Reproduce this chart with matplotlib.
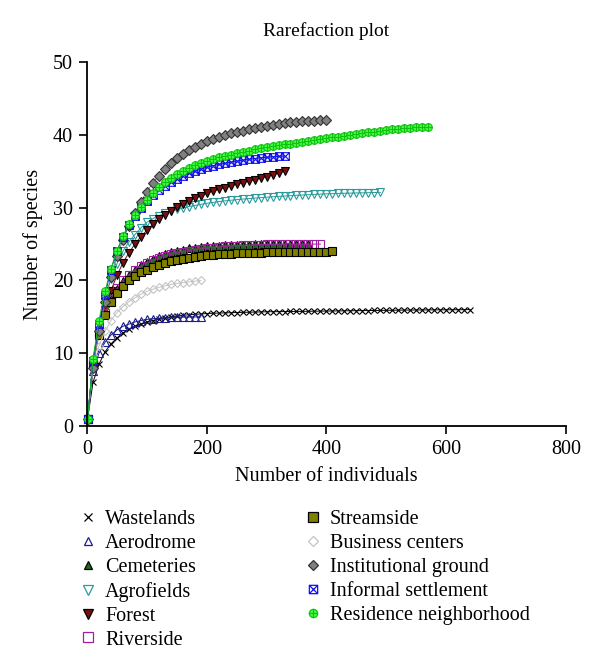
import matplotlib
matplotlib.use("Agg")
import matplotlib.pyplot as plt
from matplotlib.path import Path
from matplotlib.lines import Line2D

plt.rcParams['font.family'] = ['Liberation Serif', 'DejaVu Serif']

# sample sizes (number of individuals) at which the curves were rarefied
sizes = [1, 10, 20, 30, 40, 50, 60, 70, 80, 90,
         100, 110, 120, 130, 140, 150, 160, 170, 180, 190,
         200, 210, 220, 230, 240, 250, 260, 270, 280, 290,
         300, 310, 320, 330, 340, 350, 360, 370, 380, 390,
         400, 410, 420, 430, 440, 450, 460, 470, 480, 490,
         500, 510, 520, 530, 540, 550, 560, 570, 580, 590,
         600, 610, 620, 630, 640]

wastelands = [1, 6, 8.5, 10.2, 11.3, 12.1, 12.8, 13.3, 13.7, 14.0,
              14.3, 14.5, 14.7, 14.85, 15.0, 15.1, 15.2, 15.3, 15.35, 15.4,
              15.45, 15.5, 15.52, 15.55, 15.57, 15.6, 15.62, 15.64, 15.66, 15.68,
              15.7, 15.71, 15.72, 15.73, 15.74, 15.75, 15.76, 15.77, 15.78, 15.79,
              15.8, 15.81, 15.82, 15.83, 15.84, 15.85, 15.86, 15.87, 15.88, 15.89,
              15.9, 15.91, 15.92, 15.93, 15.94, 15.95, 15.95, 15.96, 15.96, 15.97,
              15.97, 15.98, 15.98, 15.99, 16.0]
aerodrome = [1, 7.5, 10, 11.5, 12.5, 13.2, 13.7, 14.0, 14.3, 14.5,
             14.65, 14.75, 14.82, 14.88, 14.92, 14.95, 14.97, 14.98, 14.99, 15.0]
cemeteries = [1, 8.8, 13, 15.6, 17.4, 18.8, 19.9, 20.8, 21.5, 22.1,
              22.6, 23.0, 23.35, 23.65, 23.9, 24.1, 24.25, 24.4, 24.5, 24.6,
              24.68, 24.74, 24.8, 24.84, 24.88, 24.9, 24.92, 24.94, 24.95, 24.96,
              24.97, 24.98, 24.98, 24.99, 24.99, 25.0, 25.0, 25.0]
agrofields = [1, 9, 14, 17.5, 20.2, 22.3, 24, 25.3, 26.3, 27.2,
              28.0, 28.5, 28.9, 29.2, 29.5, 29.75, 29.95, 30.15, 30.3, 30.45,
              30.6, 30.72, 30.83, 30.93, 31.02, 31.1, 31.18, 31.25, 31.32, 31.38,
              31.44, 31.5, 31.55, 31.6, 31.65, 31.7, 31.74, 31.78, 31.82, 31.86,
              31.9, 31.93, 31.96, 31.98, 32.0, 32.02, 32.04, 32.06, 32.08, 32.1]
forest = [1, 8.5, 12.8, 16.0, 18.6, 20.7, 22.4, 23.8, 25.0, 26.0,
          26.9, 27.7, 28.4, 29.05, 29.6, 30.1, 30.55, 30.95, 31.3, 31.65,
          31.95, 32.25, 32.5, 32.75, 33.0, 33.22, 33.44, 33.65, 33.85, 34.05,
          34.25, 34.5, 34.75, 35.0]
riverside = [1, 8.6, 12.8, 15.6, 17.5, 18.9, 20.0, 20.8, 21.5, 22.0,
             22.45, 22.8, 23.1, 23.35, 23.58, 23.78, 23.95, 24.1, 24.22, 24.33,
             24.43, 24.52, 24.6, 24.67, 24.73, 24.78, 24.82, 24.86, 24.9, 24.93,
             24.95, 24.97, 24.98, 24.99, 25.0, 25.0, 25.0, 25.0, 25.0, 25.0]
streamside = [1, 8.5, 12.5, 15.2, 17.0, 18.3, 19.3, 20.0, 20.6, 21.1,
              21.5, 21.85, 22.15, 22.4, 22.62, 22.8, 22.97, 23.12, 23.25, 23.35,
              23.45, 23.52, 23.58, 23.63, 23.68, 23.72, 23.75, 23.78, 23.81, 23.84,
              23.86, 23.88, 23.9, 23.91, 23.92, 23.93, 23.94, 23.95, 23.96, 23.97,
              23.98, 24.0]
business = [1, 8, 11, 13, 14.5, 15.6, 16.4, 17.1, 17.6, 18.1,
            18.5, 18.8, 19.05, 19.25, 19.45, 19.6, 19.7, 19.8, 19.9, 20.0]
institutional = [1, 8, 13, 17, 20.5, 23.3, 25.6, 27.5, 29.2, 30.8,
                 32.2, 33.4, 34.4, 35.3, 36.1, 36.8, 37.4, 37.9, 38.35, 38.75,
                 39.1, 39.4, 39.7, 39.95, 40.2, 40.4, 40.6, 40.78, 40.95, 41.1,
                 41.25, 41.38, 41.5, 41.6, 41.7, 41.78, 41.85, 41.9, 41.95, 41.98,
                 42.0]
informal = [1, 9, 14, 18, 21.5, 24.0, 26.0, 27.6, 28.9, 30.0,
            30.9, 31.7, 32.4, 33.0, 33.5, 33.95, 34.35, 34.7, 35.0, 35.3,
            35.55, 35.75, 35.95, 36.1, 36.25, 36.4, 36.52, 36.64, 36.75, 36.85,
            36.93, 37.0, 37.05, 37.1]
residence = [1, 9.2, 14.5, 18.5, 21.6, 24.1, 26.1, 27.7, 29.0, 30.1,
             31.1, 32.0, 32.8, 33.5, 34.1, 34.6, 35.05, 35.45, 35.8, 36.1,
             36.4, 36.65, 36.9, 37.1, 37.3, 37.5, 37.68, 37.85, 38.0, 38.15,
             38.3, 38.43, 38.56, 38.68, 38.8, 38.92, 39.04, 39.16, 39.28, 39.4,
             39.52, 39.64, 39.76, 39.88, 40.0, 40.11, 40.22, 40.33, 40.44, 40.55,
             40.65, 40.75, 40.85, 40.92, 40.98, 41.03, 41.07, 41.1]

names = ["Wastelands", "Aerodrome", "Cemeteries", "Agrofields", "Forest",
         "Riverside", "Streamside", "Business centers", "Institutional ground",
         "Informal settlement", "Residence neighborhood"]
series = [wastelands, aerodrome, cemeteries, agrofields, forest, riverside,
          streamside, business, institutional, informal, residence]

# custom markers: square with an x inside, circle with a cross
box_x = Path([(-1, -1), (1, -1), (1, 1), (-1, 1), (-1, -1),
              (-1, -1), (1, 1), (-1, 1), (1, -1)],
             [Path.MOVETO, Path.LINETO, Path.LINETO, Path.LINETO, Path.CLOSEPOLY,
              Path.MOVETO, Path.LINETO, Path.MOVETO, Path.LINETO])
circ_plus = Path.make_compound_path(
    Path.unit_circle(),
    Path([(-1, 0), (1, 0), (0, -1), (0, 1)],
         [Path.MOVETO, Path.LINETO, Path.MOVETO, Path.LINETO]))

# marker, face, edge, line colour, marker size
styles = [
    ("x", "black", "black", "black", 5),
    ("^", "none", "#1c1c8c", "#1c1c8c", 5.5),
    ("^", "#1d6b1d", "black", "#1d6b1d", 5.5),
    ("v", "none", "#2a9a9a", "#2a9a9a", 6),
    ("v", "#7a1010", "black", "#7a1010", 6),
    ("s", "none", "#a020a0", "#a020a0", 6),
    ("s", "#808000", "black", "#808000", 6),
    ("D", "none", "#c4c4c4", "#c4c4c4", 4.5),
    ("D", "#808080", "#333333", "#808080", 5),
    (box_x, "none", "#1010ee", "#1010ee", 5.5),
    (circ_plus, "#44ff44", "#11c011", "#11c011", 5.5),
]

fig = plt.figure(figsize=(6, 6.71), dpi=100)
ax = fig.add_axes([0.145, 0.365, 0.798, 0.5425])

handles = []
for name, ys, (mk, fc, ec, lc, ms) in zip(names, series, styles):
    ax.plot(sizes[:len(ys)], ys, color=lc, lw=0.7, marker=mk, ms=ms,
            mfc=fc, mec=ec, mew=0.8, clip_on=False)
    handles.append(Line2D([], [], ls="none", marker=mk, ms=ms + 0.5, mfc=fc,
                          mec=ec, mew=0.9, label=name))

ax.set_xlim(0, 800)
ax.set_ylim(0, 50)
ax.set_xticks([0, 200, 400, 600, 800])
ax.set_yticks([0, 10, 20, 30, 40, 50])
for s in ["top", "right"]:
    ax.spines[s].set_visible(False)
for s in ["left", "bottom"]:
    ax.spines[s].set_linewidth(1.3)
ax.tick_params(direction="out", length=6, width=1.2, labelsize=14.5, pad=4)

ax.set_xlabel("Number of individuals", fontsize=14.5)
ax.xaxis.set_label_coords(0.5, -0.112)
ax.set_ylabel("Number of species", fontsize=14.5)
ax.yaxis.set_label_coords(-0.091, 0.5)

fig.text(0.543, 0.954, "Rarefaction plot", ha="center", va="center", fontsize=14)

fig.legend(handles=handles, loc="upper left", bbox_to_anchor=(0.12, 0.252),
           ncol=2, frameon=False, fontsize=14.5, handlelength=0.8,
           handletextpad=0.45, labelspacing=0.24, columnspacing=5.35,
           borderaxespad=0, borderpad=0.4)

fig.savefig("out.png", dpi=100)
